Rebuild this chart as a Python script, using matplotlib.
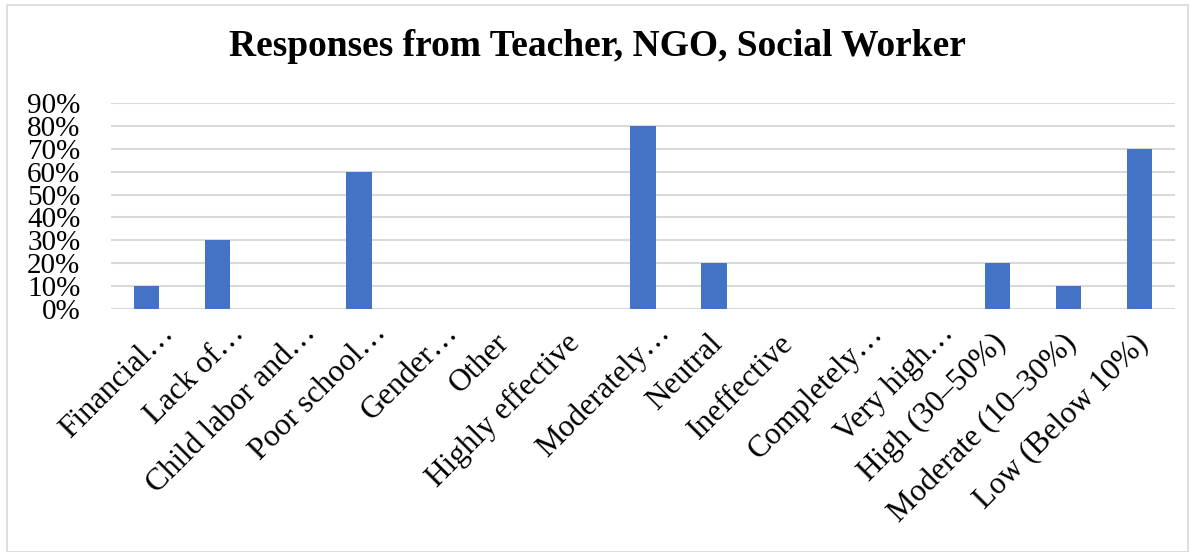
import matplotlib
matplotlib.use("Agg")
import matplotlib.pyplot as plt
from matplotlib.patches import Rectangle
from matplotlib.ticker import PercentFormatter
import matplotlib.transforms as mtransforms

categories = ["Financial…", "Lack of…", "Child labor and…", "Poor school…", "Gender…",
              "Other", "Highly effective", "Moderately…", "Neutral", "Ineffective",
              "Completely…", "Very high…", "High (30–50%)", "Moderate (10–30%)", "Low (Below 10%)"]
values = [0.10, 0.30, 0, 0.60, 0, 0, 0, 0.80, 0.20, 0, 0, 0, 0.20, 0.10, 0.70]
yticks = [0, 0.1, 0.2, 0.3, 0.4, 0.5, 0.6, 0.7, 0.8, 0.9]

plt.rcParams['font.family'] = ['Liberation Serif', 'DejaVu Serif']

fig = plt.figure(figsize=(11.95, 5.52), dpi=100)
fig.patches.append(Rectangle((7/1195, 0.0), 1 - 14/1195, 1 - 5/552, transform=fig.transFigure,
                             fill=False, edgecolor='#d9d9d9', linewidth=1.2))
ax = fig.add_axes([111/1195, 1 - 309/552, (1175 - 111)/1195, (309 - 103)/552])

x = list(range(len(categories)))
ax.bar(x, values, width=0.36, color='#4472C4', zorder=3)
ax.set_xlim(-0.5, len(categories) - 0.5)
ax.set_ylim(0, 0.9)
ax.set_yticks(yticks)
ax.yaxis.set_major_formatter(PercentFormatter(1.0, decimals=0))
ax.grid(axis='y', color='#d9d9d9', linewidth=1.5, zorder=0)
for s in ax.spines.values():
    s.set_visible(False)
ax.tick_params(axis='y', length=0, labelsize=21, pad=22)
ax.tick_params(axis='x', length=0, labelsize=22.5)
ax.set_xticks(x)
ax.set_xticklabels(categories, rotation=45, ha='right', rotation_mode='anchor', va='center')
for lbl in ax.get_xticklabels():
    if lbl.get_text().endswith("…"):
        dx, dy = 23, -15
    else:
        dx, dy = 4, -25
    offset = mtransforms.ScaledTranslation(dx/100, dy/100, fig.dpi_scale_trans)
    lbl.set_transform(lbl.get_transform() + offset)

fig.text(0.5, 1 - 47/552, "Responses from Teacher, NGO, Social Worker", ha='center', va='center',
         fontsize=27, fontweight='bold')

fig.savefig("out.png", dpi=100)
